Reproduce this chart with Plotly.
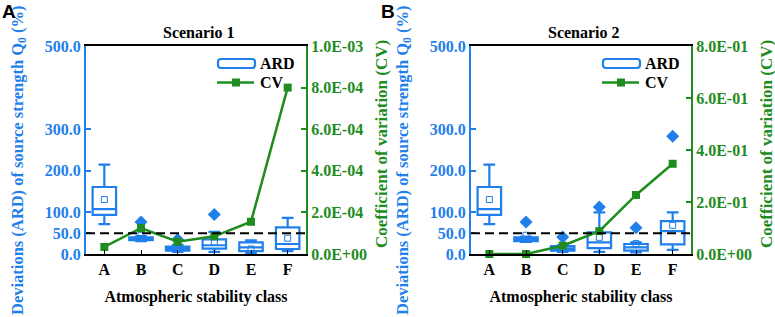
import plotly.graph_objects as go

categories = ["A", "B", "C", "D", "E", "F"]
xpos = [0, 1, 2, 3, 4, 5]

# Scenario 1 ARD box statistics (%)
s1_q1 = [94, 33, 8, 13, 7, 12]
s1_median = [108, 36, 13, 21, 16, 24]
s1_q3 = [161, 40, 18, 35, 28, 64]
s1_lower = [72, 31, 5, 5, 2, 7]
s1_upper = [215, 43, 22, 53, 33, 87]
s1_mean = [131, 45, 13, 28, 12, 38]
s1_out_x = [1, 2, 3]
s1_out_y = [77, 35, 95]
s1_cv = [3.4e-5, 1.25e-4, 5.9e-5, 8.5e-5, 1.55e-4, 8.0e-4]

# Scenario 2 ARD box statistics (%)
s2_q1 = [94, 31, 8, 14, 8, 23]
s2_median = [108, 35, 13, 28, 16, 55]
s2_q3 = [161, 40, 19, 52, 24, 79]
s2_lower = [72, 29, 5, 5, 4, 10]
s2_upper = [215, 42, 21, 100, 28, 100]
s2_mean = [131, 45, 14, 40, 25, 69]
s2_out_x = [1, 2, 3, 4, 5]
s2_out_y = [77, 41, 113, 63, 283]
s2_cv = [0.0, 0.0, 0.032, 0.088, 0.227, 0.347]

left_ticks = [0, 50, 100, 200, 300, 500]
left_ticktext = ["0.0", "50.0", "100.0", "200.0", "300.0", "500.0"]
r1_ticks = [0, 2e-4, 4e-4, 6e-4, 8e-4, 1e-3]
r1_ticktext = ["0.0E+00", "2.0E-04", "4.0E-04", "6.0E-04", "8.0E-04", "1.0E-03"]
r2_ticks = [0, 0.2, 0.4, 0.6, 0.8]
r2_ticktext = ["0.0E+00", "2.0E-01", "4.0E-01", "6.0E-01", "8.0E-01"]

BLUE = "#1F7FEB"
GREEN = "#1E8C1E"
SERIF = "Liberation Serif"
W, H = 775, 317


def px(x):
    return x / W


def py(y):
    return 1 - y / H


fig = go.Figure()

panels = [
    dict(q1=s1_q1, med=s1_median, q3=s1_q3, lo=s1_lower, up=s1_upper, mean=s1_mean,
         ox=s1_out_x, oy=s1_out_y, cv=s1_cv, xa="x", ya="y", yr="y2"),
    dict(q1=s2_q1, med=s2_median, q3=s2_q3, lo=s2_lower, up=s2_upper, mean=s2_mean,
         ox=s2_out_x, oy=s2_out_y, cv=s2_cv, xa="x2", ya="y3", yr="y4"),
]

for p in panels:
    fig.add_trace(go.Box(
        x=xpos, q1=p["q1"], median=p["med"], q3=p["q3"],
        lowerfence=p["lo"], upperfence=p["up"],
        name="ARD", xaxis=p["xa"], yaxis=p["ya"],
        fillcolor="white", line=dict(color=BLUE, width=2.2),
        width=0.64, whiskerwidth=0.5, showlegend=False,
    ))
    fig.add_trace(go.Scatter(
        x=xpos, y=p["mean"], mode="markers", xaxis=p["xa"], yaxis=p["ya"],
        marker=dict(symbol="square-open", size=6, color=BLUE, line=dict(width=1)),
        showlegend=False, hoverinfo="skip",
    ))
    fig.add_trace(go.Scatter(
        x=p["ox"], y=p["oy"], mode="markers", xaxis=p["xa"], yaxis=p["ya"],
        marker=dict(symbol="diamond", size=10, color=BLUE),
        showlegend=False,
    ))
    fig.add_trace(go.Scatter(
        x=xpos, y=p["cv"], mode="lines+markers", name="CV",
        xaxis=p["xa"], yaxis=p["yr"], showlegend=False,
        line=dict(color=GREEN, width=2.5),
        marker=dict(symbol="square", size=8, color=GREEN),
        cliponaxis=False,
    ))
    fig.add_shape(type="line", xref=f'{p["xa"]} domain', yref=p["ya"],
                  x0=0, x1=1, y0=50, y1=50,
                  line=dict(color="black", width=2, dash="9px,5px"))

domA = [px(86), px(306)]
domB = [px(471), px(691)]
ydom = [py(254), py(46)]

tickfont_b = dict(family=SERIF, size=16, color=BLUE, weight="bold")
tickfont_g = dict(family=SERIF, size=16, color=GREEN, weight="bold")

xcommon = dict(range=[-0.5, 5.5], tickvals=xpos, ticktext=categories, automargin=False,
               showline=True, mirror=True, linecolor="black", linewidth=2,
               ticks="inside", ticklen=4, tickcolor="black", showgrid=False, zeroline=False,
               tickfont=dict(family=SERIF, size=16, color="black", weight="bold"),
               title=dict(text="Atmospheric stability class", standoff=14,
                          font=dict(family=SERIF, size=16, color="black", weight="bold")))
yleft = dict(range=[0, 500], tickvals=left_ticks, ticktext=left_ticktext, automargin=False,
             showline=True, linecolor=BLUE, linewidth=2, ticks="inside", ticklen=5,
             tickcolor=BLUE, tickwidth=2, showgrid=False, zeroline=False, tickfont=tickfont_b)
yright = dict(showline=True, linecolor=GREEN, linewidth=2, ticks="inside", ticklen=5,
              tickcolor=GREEN, tickwidth=2, showgrid=False, zeroline=False, tickfont=tickfont_g,
              side="right", automargin=False)

fig.update_layout(
    width=W, height=H,
    margin=dict(l=0, r=0, t=0, b=0, autoexpand=False),
    paper_bgcolor="white", plot_bgcolor="white",
    xaxis=dict(domain=domA, anchor="y", **xcommon),
    xaxis2=dict(domain=domB, anchor="y3", **xcommon),
    yaxis=dict(domain=ydom, anchor="x", **yleft),
    yaxis2=dict(overlaying="y", anchor="x", range=[0, 1e-3], tickvals=r1_ticks,
                ticktext=r1_ticktext, **yright),
    yaxis3=dict(domain=ydom, anchor="x2", **yleft),
    yaxis4=dict(overlaying="y3", anchor="x2", range=[0, 0.8], tickvals=r2_ticks,
                ticktext=r2_ticktext, **yright),
    showlegend=False,
)


def rounded_rect(x0, y0, x1, y1, r):
    return (f"M {px(x0 + r)} {py(y0)} L {px(x1 - r)} {py(y0)} "
            f"Q {px(x1)} {py(y0)} {px(x1)} {py(y0 + r)} L {px(x1)} {py(y1 - r)} "
            f"Q {px(x1)} {py(y1)} {px(x1 - r)} {py(y1)} L {px(x0 + r)} {py(y1)} "
            f"Q {px(x0)} {py(y1)} {px(x0)} {py(y1 - r)} L {px(x0)} {py(y0 + r)} "
            f"Q {px(x0)} {py(y0)} {px(x0 + r)} {py(y0)} Z")


def note(text, x, y, font, xanchor="center", angle=0):
    return dict(text=text, x=px(x), y=py(y), xref="paper", yref="paper",
                xanchor=xanchor, yanchor="middle", textangle=angle,
                showarrow=False, font=font)


annotations = []
bold16 = dict(family=SERIF, size=16, color="black", weight="bold")
for off, title, center in [(0, "Scenario 1", 199), (385, "Scenario 2", 584)]:
    # legend (drawn manually to match the wide box glyph)
    fig.add_shape(type="path", xref="paper", yref="paper",
                  path=rounded_rect(218 + off, 59, 255 + off, 68, 3),
                  line=dict(color=BLUE, width=2.2), fillcolor="white")
    fig.add_shape(type="line", xref="paper", yref="paper",
                  x0=px(217 + off), x1=px(254 + off), y0=py(82.5), y1=py(82.5),
                  line=dict(color=GREEN, width=2.5))
    fig.add_shape(type="rect", xref="paper", yref="paper",
                  x0=px(232 + off), x1=px(240 + off), y0=py(78.5), y1=py(86.5),
                  line=dict(color=GREEN, width=0), fillcolor=GREEN)
    annotations.append(note("ARD", 258 + off, 64, bold16, xanchor="left"))
    annotations.append(note("CV", 258 + off, 83, bold16, xanchor="left"))
    annotations.append(note(title, center, 32, bold16))
    annotations.append(note("Deviations (ARD) of source strength Q<sub>0</sub> (%)",
                            18 + off, 161,
                            dict(family=SERIF, size=16.5, color=BLUE, weight="bold"), angle=-90))
    annotations.append(note("Coefficient of variation (CV)", 381 + off, 144,
                            dict(family=SERIF, size=17, color=GREEN, weight="bold"), angle=-90))

letter_font = dict(family="Liberation Sans", size=19, color="black", weight="bold")
annotations.append(note("A", 9, 12, letter_font))
annotations.append(note("B", 388, 12, letter_font))
fig.update_layout(annotations=annotations)

# remove the browser's default 8px page margin so the figure sits at the window origin
fig.write_html("out.html", config={"displayModeBar": False},
               post_script="document.body.style.margin='0';")
